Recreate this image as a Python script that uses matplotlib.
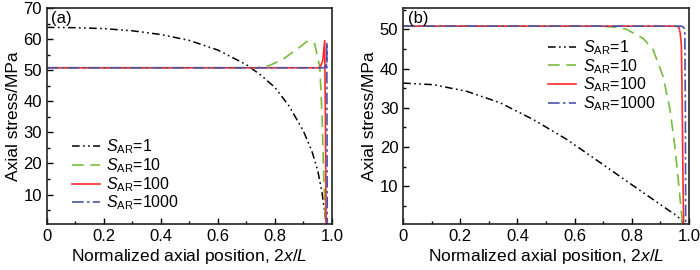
import matplotlib
matplotlib.use('Agg')
import matplotlib.pyplot as plt
from matplotlib.ticker import MultipleLocator, FuncFormatter

plt.rcParams['font.family'] = ['Liberation Sans', 'DejaVu Sans']
plt.rcParams['mathtext.fontset'] = 'custom'
plt.rcParams['mathtext.rm'] = 'Liberation Sans'
plt.rcParams['mathtext.it'] = 'Liberation Sans:italic'
plt.rcParams['font.size'] = 12

labels = ['$S_{\\rm AR}$=1', '$S_{\\rm AR}$=10', '$S_{\\rm AR}$=100', '$S_{\\rm AR}$=1000']

# (a)
a_x1 = [0, 0.1, 0.2, 0.3, 0.4, 0.5, 0.6, 0.7, 0.75, 0.8, 0.85, 0.9, 0.93, 0.95, 0.965, 0.975, 0.98]
a_y1 = [63.8, 63.7, 63.4, 62.7, 61.5, 59.6, 56.5, 51.8, 48.5, 44.5, 38.5, 30.5, 24.0, 18.0, 11.0, 4.5, 1.0]
a_x10 = [0, 0.74, 0.78, 0.828, 0.887, 0.916, 0.94, 0.958, 0.966, 0.972, 0.978]
a_y10 = [50.8, 50.8, 51.5, 53.5, 57.4, 59.5, 58.5, 51.0, 35.0, 15.0, 0.5]
a_x100 = [0, 0.958, 0.968, 0.975, 0.978, 0.98]
a_y100 = [50.8, 50.8, 53.0, 59.5, 30.0, 0.5]
a_x1000 = [0, 0.976, 0.981, 0.9825, 0.984]
a_y1000 = [50.8, 50.8, 51.8, 59.0, 0.5]

# (b)
b_x1 = [0, 0.106, 0.223, 0.339, 0.456, 0.572, 0.689, 0.805, 0.922, 0.96, 0.98]
b_y1 = [36.3, 35.9, 34.2, 31.3, 27.0, 22.0, 16.1, 10.2, 4.3, 2.4, 0.8]
b_x10 = [0, 0.689, 0.75, 0.782, 0.84, 0.875, 0.91, 0.934, 0.951, 0.963, 0.974, 0.978]
b_y10 = [50.8, 50.8, 50.5, 50.0, 47.7, 44.8, 38.0, 29.6, 20.3, 11.8, 3.4, 0.5]
b_x100 = [0, 0.959, 0.966, 0.97, 0.974, 0.977, 0.98, 0.982]
b_y100 = [50.8, 50.8, 50.3, 49.0, 46.0, 30.0, 10.0, 0.5]
b_x1000 = [0, 0.974, 0.982, 0.986, 0.988, 0.989]
b_y1000 = [50.8, 50.8, 50.5, 50.0, 30.0, 0.5]

styles = [
    dict(color='black', dashes=(5, 2.2, 1.1, 2.2, 1.1, 2.2), lw=1.1),
    dict(color='#78bc3c', dashes=(7, 4), lw=1.2),
    dict(color='#ff2a2a', linestyle='-', lw=1.2),
    dict(color='#4a55a8', dashes=(7, 2, 1.5, 2), lw=1.2),
]

fig = plt.figure(figsize=(7, 2.7), dpi=100)
ax1 = fig.add_axes([0.067, 0.170, 0.407, 0.800])
ax2 = fig.add_axes([0.576, 0.170, 0.408, 0.800])

for xs, ys, st, lb in zip([a_x1, a_x10, a_x100, a_x1000], [a_y1, a_y10, a_y100, a_y1000], styles, labels):
    ax1.plot(xs, ys, label=lb, **st)
for xs, ys, st, lb in zip([b_x1, b_x10, b_x100, b_x1000], [b_y1, b_y10, b_y100, b_y1000], styles, labels):
    ax2.plot(xs, ys, label=lb, **st)

ax1.set_ylim(0.5, 70)
ax2.set_ylim(0.4, 55.4)

fmt = FuncFormatter(lambda v, p: '0' if abs(v) < 1e-9 else '%.1f' % v)
for ax, tag in [(ax1, '(a)'), (ax2, '(b)')]:
    ax.set_xlim(0, 1.0)
    ax.xaxis.set_major_locator(MultipleLocator(0.2))
    ax.xaxis.set_minor_locator(MultipleLocator(0.1))
    ax.xaxis.set_major_formatter(fmt)
    ax.yaxis.set_major_locator(MultipleLocator(10))
    ax.yaxis.set_minor_locator(MultipleLocator(5))
    ax.tick_params(which='both', direction='in', top=False, right=False, labelsize=12)
    ax.tick_params(which='major', length=4, width=1)
    ax.tick_params(which='minor', length=2.5, width=1)
    for s in ax.spines.values():
        s.set_linewidth(1.2)
        s.set_color('#222222')
    ax.set_xlabel('Normalized axial position, 2$x$/$L$', fontsize=12.5, labelpad=2)
    ax.set_ylabel('Axial stress/MPa', fontsize=12.5, labelpad=2)
    ax.text(0.016, 0.985, tag, transform=ax.transAxes, ha='left', va='top', fontsize=12)

ax1.legend(loc='upper left', bbox_to_anchor=(0.088, 0.40), frameon=False, fontsize=11.5,
           handlelength=1.75, labelspacing=0.0, handletextpad=0.4, borderpad=0, borderaxespad=0)
ax2.legend(loc='upper left', bbox_to_anchor=(0.508, 0.86), frameon=False, fontsize=11.5,
           handlelength=1.75, labelspacing=0.0, handletextpad=0.4, borderpad=0, borderaxespad=0)

fig.savefig('out.png', dpi=100)
